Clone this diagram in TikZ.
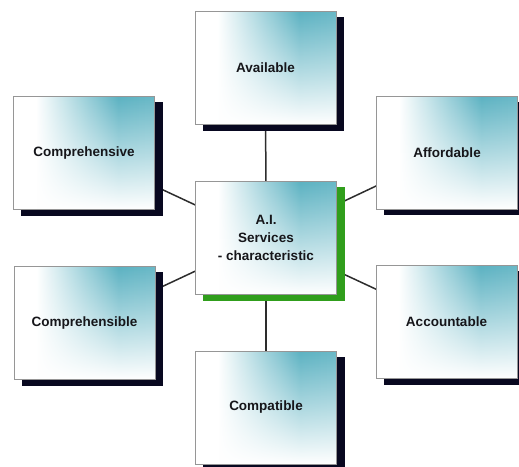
\documentclass[tikz,border=0pt]{standalone}
\usepackage{fontspec}
\setmainfont{Liberation Sans}
\usetikzlibrary{fadings,backgrounds}

\definecolor{tealtone}{RGB}{92,178,194}
\definecolor{navy}{RGB}{8,8,32}
\definecolor{leaf}{RGB}{48,158,28}
\definecolor{rim}{RGB}{150,150,150}
\definecolor{ink}{RGB}{22,22,26}
\definecolor{wire}{RGB}{45,45,45}

% white on the left, teal toward the right (path spans 25bp..75bp)
\pgfdeclarehorizontalshading{boxshade}{100bp}{%
  color(0bp)=(white); color(25bp)=(white); color(33bp)=(white);
  color(62bp)=(tealtone); color(75bp)=(tealtone!92); color(100bp)=(tealtone!92)}

% lower part washes out to white
\tikzfading[name=lowfade, top color=transparent!100,
  middle color=transparent!95, bottom color=transparent!0]

\tikzset{
  card/.style={draw=rim, line width=0.8pt, minimum width=141pt,
    minimum height=113pt, inner sep=0pt, shading=boxshade,
    text=ink, align=center,
    font=\bfseries\fontsize{13.5}{18}\selectfont,
    path picture={\fill[white, path fading=lowfade]
      (path picture bounding box.south west) rectangle
      (path picture bounding box.north east);}},
  link/.style={draw=wire, line width=1.5pt},
  shadowdark/.style={fill=navy},
  shadowgreen/.style={fill=leaf}
}

\begin{document}
\begin{tikzpicture}[x=1pt,y=-1pt]
\useasboundingbox (0,0) rectangle (519,466);

\node[card] (hub)   at (266,238)   {A.I.\\Services\\- characteristic};
\node[card] (avail) at (265.5,68)  {Available};
\node[card] (cphv)  at (84,153)    {Comprehensive};
\node[card] (afford) at (447,152.5) {Affordable};
\node[card] (cphb)  at (84.5,323)  {Comprehensible};
\node[card] (acct)  at (446.5,322) {Accountable};
\node[card] (compat) at (266,407.5) {Compatible};

\begin{scope}[on background layer]
  % connectors from the hub to each card
  \foreach \n in {avail,cphv,afford,cphb,acct,compat}
    \draw[link] (hub.center) -- (\n.center);
  % offset shadows
  \foreach \n in {avail,cphv,afford,cphb,acct,compat}
    \fill[shadowdark] ([shift={(8pt,-6pt)}]\n.south west)
      rectangle ([shift={(8pt,-6pt)}]\n.north east);
  \fill[shadowgreen] ([shift={(8pt,-6pt)}]hub.south west)
    rectangle ([shift={(8pt,-6pt)}]hub.north east);
\end{scope}
\end{tikzpicture}
\end{document}
